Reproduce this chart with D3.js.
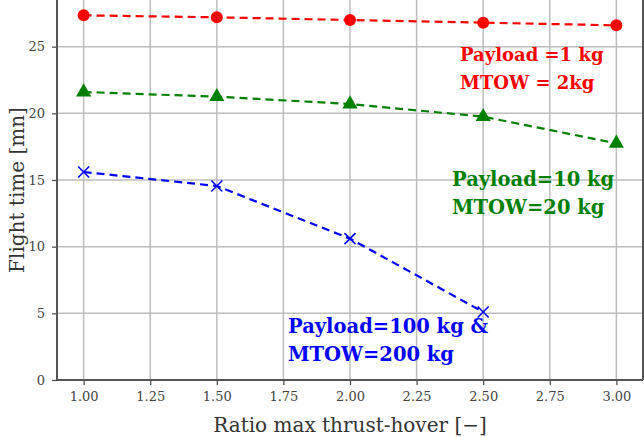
<!DOCTYPE html>
<html>
<head>
  <meta charset="utf-8">
  <script src="https://d3js.org/d3.v7.min.js"></script>
  <style>
    body { margin: 0; background: #fff; }
    text { font-family: "DejaVu Serif", "Liberation Serif", serif; }
  </style>
</head>
<body>
<script>
  // data
  var ratios = [1.0, 1.5, 2.0, 2.5, 3.0];
  var flight1kg = [27.35, 27.2, 27.0, 26.8, 26.6];
  var flight10kg = [21.6, 21.25, 20.7, 19.75, 17.75];
  var flight100kg = [15.6, 14.55, 10.6, 5.1];
  var xTicks = [1.00, 1.25, 1.50, 1.75, 2.00, 2.25, 2.50, 2.75, 3.00];
  var yTicks = [0, 5, 10, 15, 20, 25];

  var W = 644, H = 437;
  var mLeft = 57, mRight = 643, mTop = 0, mBottom = 380;

  var svg = d3.select("body").append("svg")
    .attr("width", W).attr("height", H);

  var x = d3.scaleLinear().domain([0.9, 3.1]).range([mLeft, mRight]);
  var y = d3.scaleLinear().domain([0, 28.5]).range([mBottom, mTop]);

  // grid
  svg.append("g").selectAll("line").data(xTicks).enter().append("line")
    .attr("x1", d => x(d)).attr("x2", d => x(d))
    .attr("y1", mTop).attr("y2", mBottom)
    .attr("stroke", "#bdbdbd").attr("stroke-width", 1.5);
  svg.append("g").selectAll("line").data(yTicks).enter().append("line")
    .attr("x1", mLeft).attr("x2", mRight)
    .attr("y1", d => y(d)).attr("y2", d => y(d))
    .attr("stroke", "#bdbdbd").attr("stroke-width", 1.5);

  // axes
  var xAxis = svg.append("g").attr("transform", "translate(0," + mBottom + ")")
    .call(d3.axisBottom(x).tickValues(xTicks).tickFormat(d3.format(".2f")).tickSize(5).tickPadding(7));
  var yAxis = svg.append("g").attr("transform", "translate(" + mLeft + ",0)")
    .call(d3.axisLeft(y).tickValues(yTicks).tickFormat(d3.format("d")).tickSize(5).tickPadding(7));
  [xAxis, yAxis].forEach(function (g) {
    g.select(".domain").remove();
    g.selectAll(".tick line").attr("stroke", "#444").attr("stroke-width", 1.2);
    g.selectAll(".tick text").attr("fill", "#444")
      .style("font-family", "'DejaVu Serif', serif").style("font-size", "13px");
  });

  // spines
  svg.append("line").attr("x1", mLeft).attr("x2", mLeft).attr("y1", mTop).attr("y2", mBottom)
    .attr("stroke", "#555").attr("stroke-width", 2);
  svg.append("line").attr("x1", mLeft).attr("x2", mRight).attr("y1", mBottom).attr("y2", mBottom)
    .attr("stroke", "#555").attr("stroke-width", 2);
  svg.append("line").attr("x1", mRight).attr("x2", mRight).attr("y1", mTop).attr("y2", mBottom)
    .attr("stroke", "#555").attr("stroke-width", 2);

  var line = d3.line().x(d => x(d[0])).y(d => y(d[1]));

  function series(vals, color) {
    var pts = vals.map((v, i) => [ratios[i], v]);
    svg.append("path").datum(pts).attr("d", line)
      .attr("fill", "none").attr("stroke", color)
      .attr("stroke-width", 2.2).attr("stroke-dasharray", "8,5");
    return pts;
  }

  var p1 = series(flight1kg, "#ff0000");
  svg.append("g").selectAll("circle").data(p1).enter().append("circle")
    .attr("cx", d => x(d[0])).attr("cy", d => y(d[1])).attr("r", 6).attr("fill", "#ff0000");

  var p2 = series(flight10kg, "#008000");
  svg.append("g").selectAll("path").data(p2).enter().append("path")
    .attr("transform", d => "translate(" + x(d[0]) + "," + y(d[1]) + ")")
    .attr("d", d3.symbol().type(d3.symbolTriangle).size(100)).attr("fill", "#008000");

  var p3 = series(flight100kg, "#0000ff");
  svg.append("g").selectAll("path").data(p3).enter().append("path")
    .attr("transform", d => "translate(" + x(d[0]) + "," + y(d[1]) + ")")
    .attr("d", "M-5.5,-5.5L5.5,5.5M-5.5,5.5L5.5,-5.5").attr("stroke", "#0000ff").attr("stroke-width", 1.6);

  // annotations
  function label(lines, tx, ty, color, size) {
    var t = svg.append("text").attr("fill", color)
      .style("font-family", "'DejaVu Serif', serif").style("font-weight", "bold").style("font-size", size + "px");
    lines.forEach(function (s, i) {
      t.append("tspan").attr("x", tx).attr("y", ty + i * 28).text(s);
    });
  }
  label(["Payload =1 kg", "MTOW = 2kg"], 460, 61, "#ff0000", 18);
  label(["Payload=10 kg", "MTOW=20 kg"], 452, 186, "#008000", 19.5);
  label(["Payload=100 kg &", "MTOW=200 kg"], 288, 333, "#0000ff", 19.5);

  // axis titles
  svg.append("text").attr("x", 350).attr("y", 432).attr("text-anchor", "middle")
    .attr("fill", "#333").style("font-family", "'DejaVu Serif', serif").style("font-size", "20px")
    .text("Ratio max thrust-hover [\u2212]");
  svg.append("text").attr("transform", "translate(24,190) rotate(-90)").attr("text-anchor", "middle")
    .attr("fill", "#333").style("font-family", "'DejaVu Serif', serif").style("font-size", "20px")
    .text("Flight time [mn]");
</script>
</body>
</html>
